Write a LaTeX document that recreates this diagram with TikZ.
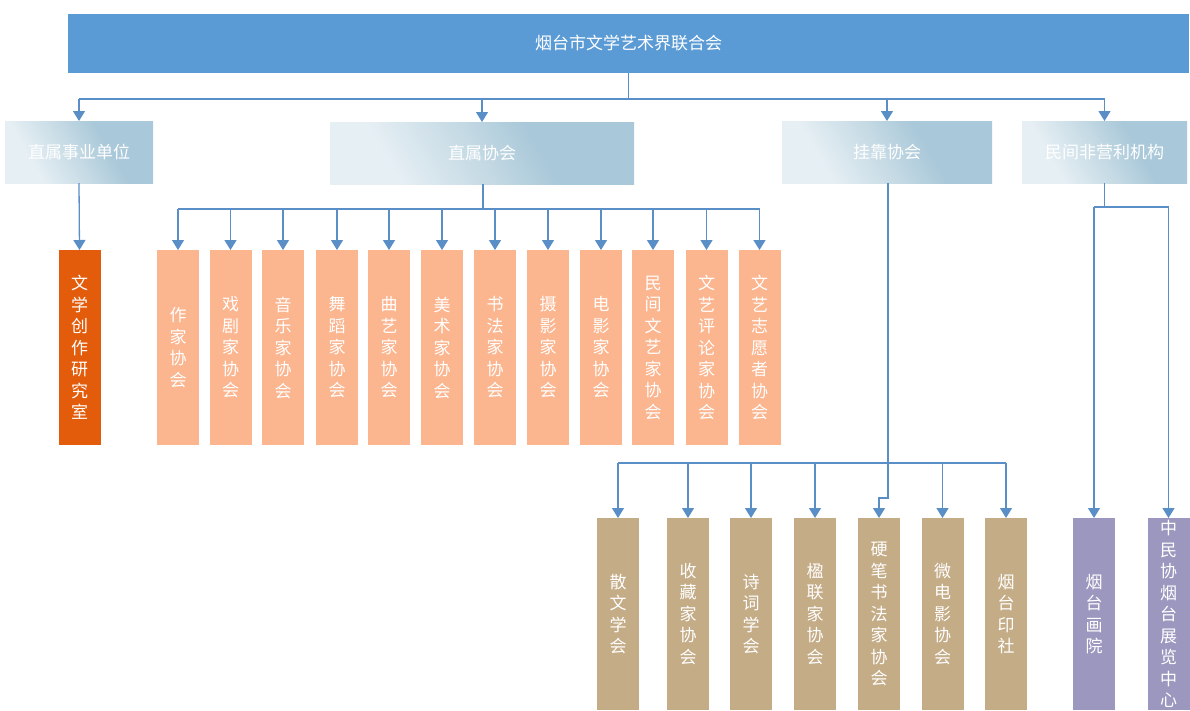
\documentclass[tikz,border=0pt]{standalone}
\usepackage{fontspec}
\setmainfont{Noto Sans CJK SC}
\usetikzlibrary{arrows.meta}
\definecolor{topblue}{HTML}{5B9BD5}
\definecolor{connc}{HTML}{5A8EC6}
\definecolor{lvlA}{HTML}{E6EFF4}
\definecolor{lvlB}{HTML}{A9C8D9}
\definecolor{lvlC}{HTML}{C2D8E3}
\definecolor{darkor}{HTML}{E35C0B}
\definecolor{lightor}{HTML}{FBB58F}
\definecolor{tanc}{HTML}{C4AC87}
\definecolor{purp}{HTML}{9C97BF}
\pgfdeclarehorizontalshading{lvlshade}{100bp}{color(0bp)=(lvlA); color(30bp)=(lvlA); color(50bp)=(lvlC); color(62bp)=(lvlB); color(100bp)=(lvlB)}
\tikzset{
  every node/.style={inner sep=0pt, outer sep=0pt},
  topbox/.style={fill=topblue, text=white, minimum width=1121pt, minimum height=59pt,
    font=\fontsize{17}{20}\selectfont},
  lvlbox/.style={shading=lvlshade, shading angle=30, text=white, minimum height=62pt,
    font=\fontsize{17}{20}\selectfont},
  vbox/.style={minimum width=42pt, text=white, align=center,
    font=\fontsize{17}{21.5}\selectfont},
  resbox/.style={vbox, fill=darkor, minimum height=195pt},
  orbox/.style={vbox, fill=lightor, minimum height=195pt},
  tanbox/.style={vbox, fill=tanc, minimum height=192pt},
  purbox/.style={vbox, fill=purp, minimum height=192pt},
  conn/.style={draw=connc, line width=1.3pt},
  arr/.style={conn, -{Triangle[width=12pt,length=10pt]}},
}
\begin{document}
\begin{tikzpicture}[x=1pt,y=-1pt]
\useasboundingbox (0,0) rectangle (1190,710);
% top
\node[topbox] (top) at (628.5,43.5) {烟台市文学艺术界联合会};
% level 2
\node[lvlbox, minimum width=148pt] (l2a) at (79,152) {直属事业单位};
\node[lvlbox, minimum width=304pt] (l2b) at (482,153) {直属协会};
\node[lvlbox, minimum width=210pt] (l2c) at (887,152) {挂靠协会};
\node[lvlbox, minimum width=165pt] (l2d) at (1104.5,152) {民间非营利机构};
% research office
\node[resbox] (res) at (79.5,347.5) {文\\学\\创\\作\\研\\究\\室};
% direct associations
\node[orbox] (o1) at (178,347.5) {作\\家\\协\\会};
\node[orbox] (o2) at (230.5,347.5) {戏\\剧\\家\\协\\会};
\node[orbox] (o3) at (283,347.5) {音\\乐\\家\\协\\会};
\node[orbox] (o4) at (337,347.5) {舞\\蹈\\家\\协\\会};
\node[orbox] (o5) at (389,347.5) {曲\\艺\\家\\协\\会};
\node[orbox] (o6) at (442,347.5) {美\\术\\家\\协\\会};
\node[orbox] (o7) at (495,347.5) {书\\法\\家\\协\\会};
\node[orbox] (o8) at (548,347.5) {摄\\影\\家\\协\\会};
\node[orbox] (o9) at (601,347.5) {电\\影\\家\\协\\会};
\node[orbox] (o10) at (653,347.5) {民\\间\\文\\艺\\家\\协\\会};
\node[orbox] (o11) at (706.5,347.5) {文\\艺\\评\\论\\家\\协\\会};
\node[orbox] (o12) at (759.5,347.5) {文\\艺\\志\\愿\\者\\协\\会};
% affiliated associations
\node[tanbox] (t1) at (618,614) {散\\文\\学\\会};
\node[tanbox] (t2) at (688,614) {收\\藏\\家\\协\\会};
\node[tanbox] (t3) at (751,614) {诗\\词\\学\\会};
\node[tanbox] (t4) at (815,614) {楹\\联\\家\\协\\会};
\node[tanbox] (t5) at (879,614) {硬\\笔\\书\\法\\家\\协\\会};
\node[tanbox] (t6) at (942.5,614) {微\\电\\影\\协\\会};
\node[tanbox] (t7) at (1006,614) {烟\\台\\印\\社};
% non-profit
\node[purbox] (p1) at (1094,614) {烟\\台\\画\\院};
\node[purbox] (p2) at (1168.5,614) {中\\民\\协\\烟\\台\\展\\览\\中\\心};
% bus coordinates
\coordinate (bus1) at (628.5,99);
\coordinate (bus2) at (483,209);
\coordinate (bus3) at (888,463);
\coordinate (bus4) at (1104.5,207);
% connectors: top
\draw[conn] (top.south) -- (bus1);
\draw[conn] (l2a.north |- bus1) -- (l2d.north |- bus1);
\foreach \n in {l2a,l2b,l2c,l2d} \draw[arr] (\n.north |- bus1) -- (\n.north);
% direct unit
\draw[arr] (l2a.south) -- (res.north);
% direct associations
\draw[conn] (l2b.south -| bus2) -- (bus2);
\draw[conn] (o1.north |- bus2) -- (o12.north |- bus2);
\foreach \n in {o1,o2,o3,o4,o5,o6,o7,o8,o9,o10,o11,o12} \draw[arr] (\n.north |- bus2) -- (\n.north);
% affiliated
\draw[conn] (l2c.south -| bus3) -- (bus3);
\draw[conn] (t1.north |- bus3) -- (t7.north |- bus3);
\foreach \n in {t1,t2,t3,t4,t6,t7} \draw[arr] (\n.north |- bus3) -- (\n.north);
\draw[arr] (bus3) -- ++(0,35) -| (t5.north);
% non-profit
\draw[conn] (l2d.south) -- (bus4);
\draw[conn] (p1.north |- bus4) -- (p2.north |- bus4);
\foreach \n in {p1,p2} \draw[arr] (\n.north |- bus4) -- (\n.north);
\end{tikzpicture}
\end{document}
